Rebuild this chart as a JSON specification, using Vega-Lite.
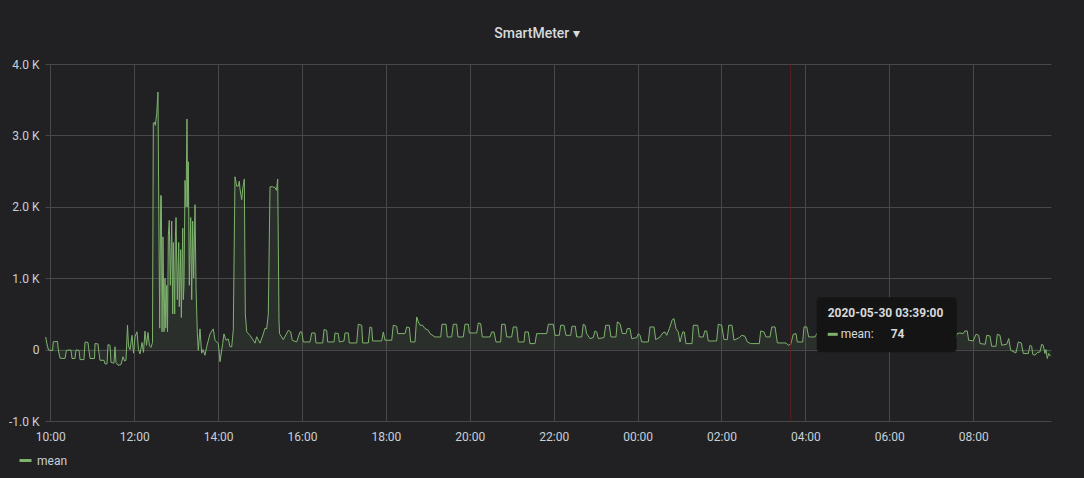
{
  "$schema": "https://vega.github.io/schema/vega-lite/v6.json",
  "width": 1006,
  "height": 357,
  "autosize": {"type": "none"},
  "padding": {"left": 45, "top": 64, "right": 33, "bottom": 57},
  "background": "#212124",
  "title": {"text": "SmartMeter ▾", "anchor": "middle", "dx": -11, "offset": 17, "fontSize": 14, "fontWeight": 500, "color": "#d8d9da", "font": "Roboto"},
  "config": {
    "view": {"stroke": null},
    "font": "Roboto",
    "axis": {"labelColor": "#c7d0d9", "labelFontSize": 12, "labelFont": "Roboto", "gridColor": "#48484b", "gridOpacity": 1, "domain": false, "ticks": false, "title": null, "labelFlush": false, "labelOverlap": false}
  },
  "datasets": {
    "series": [
      {"t":"2020-05-29T09:53:25","v":177},{"t":"2020-05-29T09:55:17","v":80},{"t":"2020-05-29T09:57:26","v":-5},{"t":"2020-05-29T10:03:09","v":-15},{"t":"2020-05-29T10:04:17","v":110},{"t":"2020-05-29T10:10:18","v":115},{"t":"2020-05-29T10:11:44","v":-20},{"t":"2020-05-29T10:13:52","v":-120},{"t":"2020-05-29T10:21:01","v":-125},{"t":"2020-05-29T10:23:10","v":-10},{"t":"2020-05-29T10:29:36","v":-5},{"t":"2020-05-29T10:31:03","v":-125},{"t":"2020-05-29T10:35:20","v":-125},{"t":"2020-05-29T10:36:46","v":-5},{"t":"2020-05-29T10:41:04","v":-10},{"t":"2020-05-29T10:42:29","v":-140},{"t":"2020-05-29T10:48:13","v":-140},{"t":"2020-05-29T10:49:38","v":105},{"t":"2020-05-29T10:53:56","v":100},{"t":"2020-05-29T10:55:22","v":-20},{"t":"2020-05-29T10:56:47","v":-125},{"t":"2020-05-29T11:03:13","v":-125},{"t":"2020-05-29T11:03:56","v":85},{"t":"2020-05-29T11:08:14","v":80},{"t":"2020-05-29T11:09:40","v":-50},{"t":"2020-05-29T11:11:05","v":-150},{"t":"2020-05-29T11:16:49","v":-150},{"t":"2020-05-29T11:18:14","v":-200},{"t":"2020-05-29T11:21:06","v":-200},{"t":"2020-05-29T11:22:32","v":70},{"t":"2020-05-29T11:25:23","v":60},{"t":"2020-05-29T11:26:49","v":-180},{"t":"2020-05-29T11:31:07","v":-190},{"t":"2020-05-29T11:32:32","v":40},{"t":"2020-05-29T11:33:58","v":-180},{"t":"2020-05-29T11:36:50","v":-220},{"t":"2020-05-29T11:41:07","v":-210},{"t":"2020-05-29T11:43:59","v":-100},{"t":"2020-05-29T11:46:08","v":-160},{"t":"2020-05-29T11:48:16","v":-150},{"t":"2020-05-29T11:50:25","v":340},{"t":"2020-05-29T11:51:51","v":50},{"t":"2020-05-29T11:54:00","v":0},{"t":"2020-05-29T11:56:51","v":200},{"t":"2020-05-29T11:59:00","v":-50},{"t":"2020-05-29T12:01:09","v":180},{"t":"2020-05-29T12:04:00","v":250},{"t":"2020-05-29T12:06:09","v":0},{"t":"2020-05-29T12:08:18","v":-60},{"t":"2020-05-29T12:11:09","v":100},{"t":"2020-05-29T12:13:18","v":-40},{"t":"2020-05-29T12:15:27","v":260},{"t":"2020-05-29T12:17:36","v":60},{"t":"2020-05-29T12:19:42","v":240},{"t":"2020-05-29T12:21:54","v":50},{"t":"2020-05-29T12:24:00","v":30},{"t":"2020-05-29T12:26:10","v":100},
      {"t":"2020-05-29T12:27:20","v":3170},{"t":"2020-05-29T12:28:50","v":3187},{"t":"2020-05-29T12:30:10","v":3141},{"t":"2020-05-29T12:32:10","v":3304},{"t":"2020-05-29T12:34:00","v":3607},{"t":"2020-05-29T12:35:30","v":1500},{"t":"2020-05-29T12:36:30","v":300},{"t":"2020-05-29T12:37:55","v":2160},{"t":"2020-05-29T12:38:50","v":2150},{"t":"2020-05-29T12:39:50","v":250},{"t":"2020-05-29T12:41:10","v":1580},{"t":"2020-05-29T12:42:40","v":250},{"t":"2020-05-29T12:44:05","v":1000},{"t":"2020-05-29T12:45:05","v":300},{"t":"2020-05-29T12:46:30","v":900},{"t":"2020-05-29T12:47:40","v":250},{"t":"2020-05-29T12:48:50","v":1600},{"t":"2020-05-29T12:50:10","v":1810},{"t":"2020-05-29T12:51:40","v":900},{"t":"2020-05-29T12:53:40","v":1800},{"t":"2020-05-29T12:55:05","v":500},{"t":"2020-05-29T12:55:55","v":1500},{"t":"2020-05-29T12:57:55","v":500},{"t":"2020-05-29T12:58:50","v":1550},{"t":"2020-05-29T12:59:50","v":1850},{"t":"2020-05-29T13:01:40","v":700},{"t":"2020-05-29T13:03:40","v":1500},{"t":"2020-05-29T13:04:30","v":600},{"t":"2020-05-29T13:06:30","v":1400},{"t":"2020-05-29T13:07:25","v":450},{"t":"2020-05-29T13:09:25","v":1700},{"t":"2020-05-29T13:10:15","v":700},{"t":"2020-05-29T13:11:15","v":900},{"t":"2020-05-29T13:12:40","v":2370},{"t":"2020-05-29T13:14:05","v":2000},{"t":"2020-05-29T13:15:30","v":3230},{"t":"2020-05-29T13:16:30","v":2000},{"t":"2020-05-29T13:17:25","v":2630},{"t":"2020-05-29T13:18:50","v":900},{"t":"2020-05-29T13:20:50","v":1850},{"t":"2020-05-29T13:22:15","v":700},{"t":"2020-05-29T13:23:40","v":1800},{"t":"2020-05-29T13:25:05","v":1000},{"t":"2020-05-29T13:27:00","v":2030},{"t":"2020-05-29T13:28:25","v":870},{"t":"2020-05-29T13:30:15","v":240},{"t":"2020-05-29T13:31:40","v":-10},{"t":"2020-05-29T13:34:05","v":290},{"t":"2020-05-29T13:36:30","v":-50},{"t":"2020-05-29T13:38:25","v":0},{"t":"2020-05-29T13:41:15","v":-80},{"t":"2020-05-29T13:43:40","v":40},{"t":"2020-05-29T13:48:25","v":220},{"t":"2020-05-29T13:53:05","v":290},{"t":"2020-05-29T13:55:35","v":130},{"t":"2020-05-29T14:00:20","v":85},{"t":"2020-05-29T14:02:45","v":-170},{"t":"2020-05-29T14:06:35","v":85},{"t":"2020-05-29T14:08:25","v":220},{"t":"2020-05-29T14:11:20","v":130},{"t":"2020-05-29T14:14:35","v":150},{"t":"2020-05-29T14:17:00","v":40},{"t":"2020-05-29T14:19:30","v":40},{"t":"2020-05-29T14:21:45","v":280},{"t":"2020-05-29T14:24:10","v":2420},{"t":"2020-05-29T14:26:35","v":2290},{"t":"2020-05-29T14:28:55","v":2290},{"t":"2020-05-29T14:30:20","v":2360},{"t":"2020-05-29T14:31:20","v":2250},{"t":"2020-05-29T14:33:45","v":2100},{"t":"2020-05-29T14:35:10","v":2250},{"t":"2020-05-29T14:37:30","v":2390},{"t":"2020-05-29T14:38:55","v":500},{"t":"2020-05-29T14:40:55","v":250},{"t":"2020-05-29T14:45:35","v":200},{"t":"2020-05-29T14:50:20","v":130},{"t":"2020-05-29T14:52:50","v":90},{"t":"2020-05-29T14:55:10","v":180},{"t":"2020-05-29T15:00:00","v":90},{"t":"2020-05-29T15:04:40","v":220},{"t":"2020-05-29T15:07:05","v":300},{"t":"2020-05-29T15:09:30","v":290},{"t":"2020-05-29T15:11:50","v":500},{"t":"2020-05-29T15:14:15","v":2280},{"t":"2020-05-29T15:17:50","v":2280},{"t":"2020-05-29T15:21:25","v":2270},{"t":"2020-05-29T15:23:30","v":2230},{"t":"2020-05-29T15:25:15","v":2390},{"t":"2020-05-29T15:27:05","v":420},
      {"t":"2020-05-29T15:27:50","v":224},{"t":"2020-05-29T15:33:15","v":140},{"t":"2020-05-29T15:40:25","v":270},{"t":"2020-05-29T15:43:50","v":250},{"t":"2020-05-29T15:46:05","v":130},{"t":"2020-05-29T15:52:25","v":107},{"t":"2020-05-29T15:57:05","v":247},{"t":"2020-05-29T15:59:35","v":247},{"t":"2020-05-29T16:01:55","v":107},{"t":"2020-05-29T16:11:25","v":107},{"t":"2020-05-29T16:13:55","v":233},{"t":"2020-05-29T16:18:35","v":233},{"t":"2020-05-29T16:20:00","v":93},{"t":"2020-05-29T16:29:35","v":93},{"t":"2020-05-29T16:31:30","v":280},{"t":"2020-05-29T16:35:20","v":270},{"t":"2020-05-29T16:36:45","v":107},{"t":"2020-05-29T16:45:50","v":107},{"t":"2020-05-29T16:47:15","v":233},{"t":"2020-05-29T16:51:55","v":224},{"t":"2020-05-29T16:53:25","v":107},{"t":"2020-05-29T17:00:05","v":121},{"t":"2020-05-29T17:01:30","v":233},{"t":"2020-05-29T17:06:15","v":233},{"t":"2020-05-29T17:07:40","v":93},{"t":"2020-05-29T17:18:15","v":93},{"t":"2020-05-29T17:20:30","v":355},{"t":"2020-05-29T17:25:25","v":341},{"t":"2020-05-29T17:26:50","v":93},{"t":"2020-05-29T17:34:50","v":93},{"t":"2020-05-29T17:37:15","v":317},{"t":"2020-05-29T17:39:40","v":308},{"t":"2020-05-29T17:41:05","v":121},{"t":"2020-05-29T17:54:00","v":121},{"t":"2020-05-29T17:56:20","v":247},{"t":"2020-05-29T17:58:40","v":131},{"t":"2020-05-29T18:08:20","v":131},{"t":"2020-05-29T18:10:35","v":341},{"t":"2020-05-29T18:15:30","v":327},{"t":"2020-05-29T18:16:55","v":224},{"t":"2020-05-29T18:27:20","v":224},{"t":"2020-05-29T18:29:45","v":317},{"t":"2020-05-29T18:33:30","v":308},{"t":"2020-05-29T18:35:30","v":107},{"t":"2020-05-29T18:41:35","v":107},{"t":"2020-05-29T18:44:05","v":457},{"t":"2020-05-29T18:46:25","v":387},{"t":"2020-05-29T18:48:50","v":341},{"t":"2020-05-29T18:52:35","v":341},{"t":"2020-05-29T18:55:55","v":294},{"t":"2020-05-29T19:00:40","v":271},{"t":"2020-05-29T19:03:05","v":224},{"t":"2020-05-29T19:10:10","v":177},{"t":"2020-05-29T19:18:25","v":177},{"t":"2020-05-29T19:20:10","v":355},{"t":"2020-05-29T19:26:00","v":355},{"t":"2020-05-29T19:27:50","v":177},{"t":"2020-05-29T19:34:05","v":177},{"t":"2020-05-29T19:36:25","v":355},{"t":"2020-05-29T19:41:15","v":355},{"t":"2020-05-29T19:43:05","v":177},{"t":"2020-05-29T19:50:40","v":177},{"t":"2020-05-29T19:53:10","v":355},{"t":"2020-05-29T19:57:55","v":355},{"t":"2020-05-29T19:59:20","v":233},{"t":"2020-05-29T20:09:55","v":233},{"t":"2020-05-29T20:12:10","v":373},{"t":"2020-05-29T20:15:35","v":364},{"t":"2020-05-29T20:17:55","v":177},{"t":"2020-05-29T20:28:55","v":177},{"t":"2020-05-29T20:31:20","v":247},{"t":"2020-05-29T20:34:35","v":247},{"t":"2020-05-29T20:37:30","v":107},{"t":"2020-05-29T20:44:10","v":107},{"t":"2020-05-29T20:45:35","v":355},{"t":"2020-05-29T20:50:25","v":355},{"t":"2020-05-29T20:52:50","v":177},{"t":"2020-05-29T20:59:55","v":177},{"t":"2020-05-29T21:02:10","v":317},{"t":"2020-05-29T21:07:05","v":317},{"t":"2020-05-29T21:09:25","v":107},{"t":"2020-05-29T21:17:30","v":107},{"t":"2020-05-29T21:18:55","v":247},{"t":"2020-05-29T21:23:40","v":247},{"t":"2020-05-29T21:26:05","v":84},{"t":"2020-05-29T21:33:15","v":84},{"t":"2020-05-29T21:35:40","v":224},{"t":"2020-05-29T21:50:00","v":224},{"t":"2020-05-29T21:52:20","v":355},{"t":"2020-05-29T21:59:25","v":355},{"t":"2020-05-29T22:01:55","v":200},{"t":"2020-05-29T22:08:00","v":200},{"t":"2020-05-29T22:10:00","v":341},{"t":"2020-05-29T22:14:40","v":341},{"t":"2020-05-29T22:17:35","v":200},{"t":"2020-05-29T22:24:20","v":200},{"t":"2020-05-29T22:26:10","v":327},{"t":"2020-05-29T22:30:55","v":327},{"t":"2020-05-29T22:32:55","v":177},{"t":"2020-05-29T22:40:05","v":177},{"t":"2020-05-29T22:42:20","v":355},{"t":"2020-05-29T22:44:50","v":341},{"t":"2020-05-29T22:47:10","v":224},{"t":"2020-05-29T22:51:55","v":154},{"t":"2020-05-29T22:56:35","v":168},{"t":"2020-05-29T22:59:05","v":261},{"t":"2020-05-29T23:01:30","v":247},{"t":"2020-05-29T23:03:50","v":154},{"t":"2020-05-29T23:11:55","v":168},{"t":"2020-05-29T23:14:25","v":341},{"t":"2020-05-29T23:19:30","v":341},{"t":"2020-05-29T23:21:55","v":177},{"t":"2020-05-29T23:29:05","v":177},{"t":"2020-05-29T23:31:00","v":388},{"t":"2020-05-29T23:34:55","v":364},{"t":"2020-05-29T23:38:05","v":224},{"t":"2020-05-29T23:43:25","v":224},{"t":"2020-05-29T23:45:20","v":294},{"t":"2020-05-29T23:49:10","v":294},{"t":"2020-05-29T23:51:35","v":154},{"t":"2020-05-29T23:58:50","v":168},
      {"t":"2020-05-30T00:01:05","v":224},{"t":"2020-05-30T00:03:30","v":200},{"t":"2020-05-30T00:05:55","v":107},{"t":"2020-05-30T00:15:20","v":107},{"t":"2020-05-30T00:17:45","v":317},{"t":"2020-05-30T00:23:30","v":317},{"t":"2020-05-30T00:25:55","v":140},{"t":"2020-05-30T00:32:05","v":177},{"t":"2020-05-30T00:35:55","v":233},{"t":"2020-05-30T00:39:10","v":247},{"t":"2020-05-30T00:41:35","v":200},{"t":"2020-05-30T00:45:25","v":294},{"t":"2020-05-30T00:49:35","v":420},{"t":"2020-05-30T00:52:05","v":434},{"t":"2020-05-30T00:54:55","v":294},{"t":"2020-05-30T00:58:10","v":247},{"t":"2020-05-30T01:00:40","v":107},{"t":"2020-05-30T01:04:30","v":247},{"t":"2020-05-30T01:06:50","v":247},{"t":"2020-05-30T01:09:10","v":84},{"t":"2020-05-30T01:17:50","v":84},{"t":"2020-05-30T01:19:40","v":341},{"t":"2020-05-30T01:26:00","v":341},{"t":"2020-05-30T01:28:20","v":177},{"t":"2020-05-30T01:34:00","v":177},{"t":"2020-05-30T01:36:00","v":261},{"t":"2020-05-30T01:38:50","v":261},{"t":"2020-05-30T01:41:05","v":121},{"t":"2020-05-30T01:53:05","v":121},{"t":"2020-05-30T01:55:25","v":355},{"t":"2020-05-30T02:00:20","v":341},{"t":"2020-05-30T02:03:35","v":140},{"t":"2020-05-30T02:08:20","v":140},{"t":"2020-05-30T02:10:20","v":341},{"t":"2020-05-30T02:15:00","v":341},{"t":"2020-05-30T02:17:55","v":131},{"t":"2020-05-30T02:25:30","v":168},{"t":"2020-05-30T02:28:55","v":200},{"t":"2020-05-30T02:33:35","v":187},{"t":"2020-05-30T02:36:55","v":107},{"t":"2020-05-30T02:41:50","v":84},{"t":"2020-05-30T02:54:05","v":84},{"t":"2020-05-30T02:56:05","v":261},{"t":"2020-05-30T03:00:50","v":247},{"t":"2020-05-30T03:03:40","v":177},{"t":"2020-05-30T03:09:25","v":177},{"t":"2020-05-30T03:11:50","v":317},{"t":"2020-05-30T03:16:35","v":317},{"t":"2020-05-30T03:19:55","v":93},{"t":"2020-05-30T03:32:20","v":93},{"t":"2020-05-30T03:35:35","v":61},{"t":"2020-05-30T03:39:00","v":74},{"t":"2020-05-30T03:42:40","v":215},{"t":"2020-05-30T03:46:35","v":224},{"t":"2020-05-30T03:48:25","v":107},{"t":"2020-05-30T03:56:10","v":107},{"t":"2020-05-30T03:58:00","v":317},{"t":"2020-05-30T04:01:55","v":317},{"t":"2020-05-30T04:04:40","v":177},{"t":"2020-05-30T04:13:40","v":177},
      {"t":"2020-05-30T04:18:00","v":250},{"t":"2020-05-30T04:23:40","v":250},{"t":"2020-05-30T04:25:10","v":120},{"t":"2020-05-30T04:35:10","v":120},{"t":"2020-05-30T04:36:35","v":260},{"t":"2020-05-30T04:42:20","v":260},{"t":"2020-05-30T04:43:45","v":130},{"t":"2020-05-30T04:56:35","v":130},{"t":"2020-05-30T04:58:05","v":300},{"t":"2020-05-30T05:03:50","v":300},{"t":"2020-05-30T05:05:15","v":140},{"t":"2020-05-30T05:15:15","v":140},{"t":"2020-05-30T05:16:40","v":250},{"t":"2020-05-30T05:22:25","v":250},{"t":"2020-05-30T05:23:50","v":120},{"t":"2020-05-30T05:35:20","v":120},{"t":"2020-05-30T05:36:40","v":280},{"t":"2020-05-30T05:42:25","v":280},{"t":"2020-05-30T05:43:55","v":130},{"t":"2020-05-30T05:55:20","v":130},{"t":"2020-05-30T05:56:45","v":260},{"t":"2020-05-30T06:02:30","v":260},{"t":"2020-05-30T06:03:55","v":110},{"t":"2020-05-30T06:15:20","v":110},{"t":"2020-05-30T06:16:50","v":300},{"t":"2020-05-30T06:22:30","v":300},{"t":"2020-05-30T06:23:55","v":130},{"t":"2020-05-30T06:35:25","v":130},{"t":"2020-05-30T06:36:50","v":260},{"t":"2020-05-30T06:42:30","v":260},{"t":"2020-05-30T06:43:55","v":110},{"t":"2020-05-30T06:55:25","v":110},{"t":"2020-05-30T06:56:50","v":270},{"t":"2020-05-30T07:02:30","v":270},{"t":"2020-05-30T07:04:00","v":120},{"t":"2020-05-30T07:15:25","v":120},{"t":"2020-05-30T07:16:50","v":250},{"t":"2020-05-30T07:22:35","v":250},{"t":"2020-05-30T07:24:00","v":130},{"t":"2020-05-30T07:34:00","v":130},{"t":"2020-05-30T07:36:55","v":224},
      {"t":"2020-05-30T07:40:55","v":233},{"t":"2020-05-30T07:45:45","v":224},{"t":"2020-05-30T07:48:10","v":261},{"t":"2020-05-30T07:51:30","v":261},{"t":"2020-05-30T07:53:30","v":131},{"t":"2020-05-30T08:00:05","v":121},{"t":"2020-05-30T08:04:00","v":215},{"t":"2020-05-30T08:07:55","v":200},{"t":"2020-05-30T08:09:45","v":84},{"t":"2020-05-30T08:17:20","v":75},{"t":"2020-05-30T08:19:20","v":200},{"t":"2020-05-30T08:24:00","v":191},{"t":"2020-05-30T08:26:30","v":47},{"t":"2020-05-30T08:32:35","v":47},{"t":"2020-05-30T08:34:30","v":215},{"t":"2020-05-30T08:38:20","v":200},{"t":"2020-05-30T08:40:50","v":61},{"t":"2020-05-30T08:47:55","v":75},{"t":"2020-05-30T08:50:50","v":154},{"t":"2020-05-30T08:53:35","v":-9},{"t":"2020-05-30T09:01:10","v":-47},{"t":"2020-05-30T09:04:30","v":107},{"t":"2020-05-30T09:08:50","v":93},{"t":"2020-05-30T09:11:40","v":-56},{"t":"2020-05-30T09:18:50","v":-56},{"t":"2020-05-30T09:21:20","v":61},{"t":"2020-05-30T09:23:40","v":47},{"t":"2020-05-30T09:25:05","v":-65},{"t":"2020-05-30T09:28:25","v":-79},{"t":"2020-05-30T09:31:40","v":-42},{"t":"2020-05-30T09:35:30","v":-33},{"t":"2020-05-30T09:38:00","v":75},{"t":"2020-05-30T09:40:10","v":61},{"t":"2020-05-30T09:42:40","v":-56},{"t":"2020-05-30T09:44:05","v":0},{"t":"2020-05-30T09:46:00","v":-126},{"t":"2020-05-30T09:48:00","v":-56},{"t":"2020-05-30T09:50:55","v":-93}
    ],
    "hover": [
      {"t": "2020-05-30T03:39:00", "v": 74, "stamp": "2020-05-30 03:39:00", "name": "mean:", "shown": "74"}
    ]
  },
  "layer": [
    {
      "data": {"name": "series"},
      "mark": {"type": "area", "color": "#7EB26D", "opacity": 0.1},
      "encoding": {
        "x": {
          "field": "t", "type": "temporal",
          "scale": {"domain": [{"year": 2020, "month": 5, "date": 29, "hours": 9, "minutes": 52, "seconds": 25}, {"year": 2020, "month": 5, "date": 30, "hours": 9, "minutes": 51, "seconds": 18}]},
          "axis": {"format": "%H:%M", "grid": true, "labelPadding": 10,
            "values": [
              {"year": 2020, "month": 5, "date": 29, "hours": 10}, {"year": 2020, "month": 5, "date": 29, "hours": 12},
              {"year": 2020, "month": 5, "date": 29, "hours": 14}, {"year": 2020, "month": 5, "date": 29, "hours": 16},
              {"year": 2020, "month": 5, "date": 29, "hours": 18}, {"year": 2020, "month": 5, "date": 29, "hours": 20},
              {"year": 2020, "month": 5, "date": 29, "hours": 22}, {"year": 2020, "month": 5, "date": 30, "hours": 0},
              {"year": 2020, "month": 5, "date": 30, "hours": 2}, {"year": 2020, "month": 5, "date": 30, "hours": 4},
              {"year": 2020, "month": 5, "date": 30, "hours": 6}, {"year": 2020, "month": 5, "date": 30, "hours": 8}
            ]}
        },
        "y": {
          "field": "v", "type": "quantitative",
          "scale": {"domain": [-1000, 4000], "nice": false},
          "axis": {"values": [-1000, 0, 1000, 2000, 3000, 4000], "grid": true, "labelPadding": 6,
            "labelExpr": "datum.value == 0 ? '0' : (datum.value < 0 ? '-' + format(-datum.value / 1000, '.1f') + ' K' : format(datum.value / 1000, '.1f') + ' K')"}
        },
        "y2": {"datum": 0}
      }
    },
    {
      "data": {"name": "series"},
      "mark": {"type": "line", "strokeWidth": 1},
      "encoding": {
        "x": {"field": "t", "type": "temporal"},
        "y": {"field": "v", "type": "quantitative"},
        "color": {
          "datum": "mean", "type": "nominal",
          "scale": {"range": ["#7EB26D"]},
          "legend": {"title": null, "orient": "none", "legendX": -27, "legendY": 389, "symbolType": "stroke", "symbolStrokeWidth": 3, "symbolSize": 144, "labelColor": "#c7d0d9", "labelFontSize": 12, "labelFont": "Roboto", "labelOffset": 4, "padding": 0}
        }
      }
    },
    {
      "data": {"name": "hover"},
      "mark": {"type": "rule", "color": "#6e1c1c", "strokeWidth": 1, "opacity": 0.75},
      "encoding": {"x": {"field": "t", "type": "temporal"}}
    },
    {
      "data": {"name": "hover"},
      "mark": {"type": "rect", "color": "#141414", "opacity": 1, "cornerRadius": 4, "xOffset": 26, "x2Offset": 166, "yOffset": -47, "y2Offset": 8},
      "encoding": {
        "x": {"field": "t", "type": "temporal"}, "x2": {"field": "t"},
        "y": {"field": "v", "type": "quantitative"}, "y2": {"field": "v"}
      }
    },
    {
      "data": {"name": "hover"},
      "mark": {"type": "text", "align": "left", "baseline": "alphabetic", "dx": 37, "dy": -27, "fontSize": 12, "fontWeight": "bold", "color": "#d8d9da", "font": "Roboto"},
      "encoding": {"x": {"field": "t", "type": "temporal"}, "y": {"field": "v", "type": "quantitative"}, "text": {"field": "stamp"}}
    },
    {
      "data": {"name": "hover"},
      "mark": {"type": "rule", "color": "#7EB26D", "strokeWidth": 3, "xOffset": 37, "x2Offset": 47, "yOffset": -10},
      "encoding": {"x": {"field": "t", "type": "temporal"}, "x2": {"field": "t"}, "y": {"field": "v", "type": "quantitative"}}
    },
    {
      "data": {"name": "hover"},
      "mark": {"type": "text", "align": "left", "baseline": "alphabetic", "dx": 50, "dy": -6, "fontSize": 12, "color": "#d8d9da", "font": "Roboto"},
      "encoding": {"x": {"field": "t", "type": "temporal"}, "y": {"field": "v", "type": "quantitative"}, "text": {"field": "name"}}
    },
    {
      "data": {"name": "hover"},
      "mark": {"type": "text", "align": "left", "baseline": "alphabetic", "dx": 100, "dy": -6, "fontSize": 12, "fontWeight": "bold", "color": "#d8d9da", "font": "Roboto"},
      "encoding": {"x": {"field": "t", "type": "temporal"}, "y": {"field": "v", "type": "quantitative"}, "text": {"field": "shown"}}
    }
  ]
}
